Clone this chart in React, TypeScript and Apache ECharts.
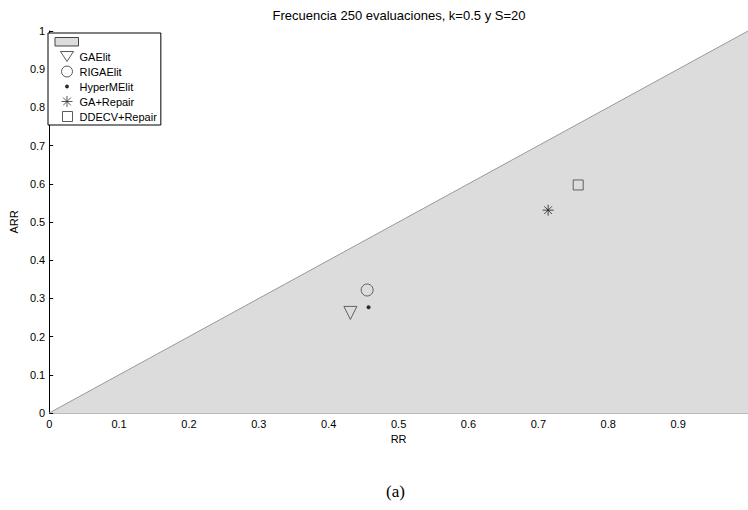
import React, { useEffect, useRef } from "react";
import * as echarts from "echarts";

const titleText = "Frecuencia 250 evaluaciones, k=0.5 y S=20";
const regionLine: number[][] = [[0, 0], [1, 1]];
const seriesNames = ["GAElit", "RIGAElit", "HyperMElit", "GA+Repair", "DDECV+Repair"];
const rrValues = [0.431, 0.455, 0.457, 0.714, 0.757];
const arrValues = [0.262, 0.322, 0.277, 0.531, 0.597];
const tickValues = [0, 0.1, 0.2, 0.3, 0.4, 0.5, 0.6, 0.7, 0.8, 0.9, 1];

const STAR = "path://M0,5 L10,5 M5,0 L5,10 M1.5,1.5 L8.5,8.5 M8.5,1.5 L1.5,8.5";

const symbolStyles = [
  { symbol: "triangle", size: 13, rotate: 180, hollow: true },
  { symbol: "circle", size: 12, rotate: 0, hollow: true },
  { symbol: "circle", size: 4, rotate: 0, hollow: false },
  { symbol: STAR, size: 11, rotate: 0, hollow: true },
  { symbol: "rect", size: 10, rotate: 0, hollow: true },
];

// legend icons drawn inside a fixed 24x12 frame (the leading moves define the frame)
const FRAME = "path://M0,0 M24,12 ";
const legendIcons = [
  FRAME + "M6,1 L19,1 L12.5,11 Z",
  FRAME + "M7,6 A5.5,5.5 0 1 1 18,6 A5.5,5.5 0 1 1 7,6 Z",
  FRAME + "M11,6 A1.5,1.5 0 1 1 14,6 A1.5,1.5 0 1 1 11,6 Z",
  FRAME + "M7,6 L18,6 M12.5,0.5 L12.5,11.5 M8.6,2.1 L16.4,9.9 M16.4,2.1 L8.6,9.9",
  FRAME + "M8,1 L18,1 L18,11 L8,11 Z",
];
const legendFills = ["rgba(0,0,0,0)", "rgba(0,0,0,0)", "#000", "rgba(0,0,0,0)", "rgba(0,0,0,0)"];

const fmt = (v: number) => (v === 0 ? "0" : v === 1 ? "1" : String(Math.round(v * 10) / 10));

export default function App() {
  const ref = useRef<HTMLDivElement>(null);
  useEffect(() => {
    if (!ref.current) return;
    const chart = echarts.init(ref.current, null, { renderer: "svg" });
    const tickFont = "'Liberation Sans Narrow', 'Liberation Sans', Arial, sans-serif";
    const scatterSeries = seriesNames.map((name, i) => {
      const s = symbolStyles[i];
      return {
        type: "scatter",
        name,
        data: [[rrValues[i], arrValues[i]]],
        symbol: s.symbol,
        symbolSize: s.size,
        symbolRotate: s.rotate,
        symbolKeepAspect: true,
        itemStyle: s.hollow
          ? { color: "rgba(0,0,0,0)", borderColor: i === 3 ? "#222" : "#444", borderWidth: 1 }
          : { color: "#000" },
        z: 5,
      };
    });
    chart.setOption({
      animation: false,
      backgroundColor: "#fff",
      title: {
        text: titleText,
        left: 394,
        textAlign: "center",
        top: 4,
        textStyle: { fontSize: 13, fontWeight: "normal", color: "#000", fontFamily: "'Liberation Sans', Arial, sans-serif" },
      },
      grid: { left: 46, right: -3, top: 31, bottom: 97, containLabel: false },
      legend: {
        orient: "vertical",
        left: 48,
        top: 33,
        itemWidth: 24,
        itemHeight: 12,
        itemGap: 2,
        padding: [2, 4, 2, 6],
        borderColor: "#000",
        borderWidth: 1,
        backgroundColor: "#fff",
        textStyle: { fontSize: 11, color: "#000", fontFamily: "'Liberation Sans', Arial, sans-serif", padding: [0, 0, 0, -4] },
        data: [
          {
            name: " ",
            icon: FRAME + "M0.5,2 L24,2 L24,10.5 L0.5,10.5 Z",
            itemStyle: { color: "#dcdcdc", borderColor: "#444", borderWidth: 1 },
          },
          ...seriesNames.map((n, i) => ({
            name: n,
            icon: legendIcons[i],
            itemStyle: { color: legendFills[i], borderColor: i === 2 ? "#000" : "#333", borderWidth: 1 },
          })),
        ],
      },
      xAxis: {
        type: "value",
        min: 0,
        max: 1,
        interval: 0.1,
        name: "RR",
        nameLocation: "middle",
        nameGap: 17,
        nameTextStyle: { fontSize: 11, color: "#000", fontFamily: tickFont },
        axisLine: { show: true, lineStyle: { color: "#bbb", width: 1 } },
        axisTick: { show: false },
        splitLine: { show: false },
        axisLabel: {
          fontSize: 11,
          color: "#000",
          fontFamily: tickFont,
          margin: 5,
          showMaxLabel: false,
          formatter: (v: number) => (v >= 1 ? "" : fmt(v)),
        },
      },
      yAxis: {
        type: "value",
        min: 0,
        max: 1,
        interval: 0.1,
        name: "ARR",
        nameLocation: "middle",
        nameGap: 19,
        nameRotate: 90,
        nameTextStyle: { fontSize: 11, color: "#000", fontFamily: tickFont },
        axisLine: { show: true, lineStyle: { color: "#000", width: 1 } },
        axisTick: { show: true, inside: true, length: 4, lineStyle: { color: "#000" } },
        splitLine: { show: false },
        axisLabel: {
          fontSize: 11,
          color: "#000",
          fontFamily: tickFont,
          margin: 4,
          formatter: (v: number) => fmt(tickValues.reduce((a, b) => (Math.abs(b - v) < Math.abs(a - v) ? b : a))),
        },
      },
      series: [
        {
          type: "line",
          name: " ",
          data: regionLine,
          showSymbol: false,
          symbol: "none",
          lineStyle: { color: "#999", width: 1 },
          itemStyle: { color: "#dcdcdc" },
          areaStyle: { color: "#dcdcdc", opacity: 1 },
          z: 1,
        },
        ...scatterSeries,
      ],
      graphic: [
        {
          type: "text",
          left: 386,
          top: 483,
          style: { text: "(a)", fontSize: 17, fill: "#000", fontFamily: "'Liberation Serif', 'DejaVu Serif', serif" },
        },
      ],
    });
    return () => chart.dispose();
  }, []);
  return (
    <div
      ref={ref}
      style={{ position: "absolute", left: 0, top: 0, width: 748, height: 510 }}
    />
  );
}
